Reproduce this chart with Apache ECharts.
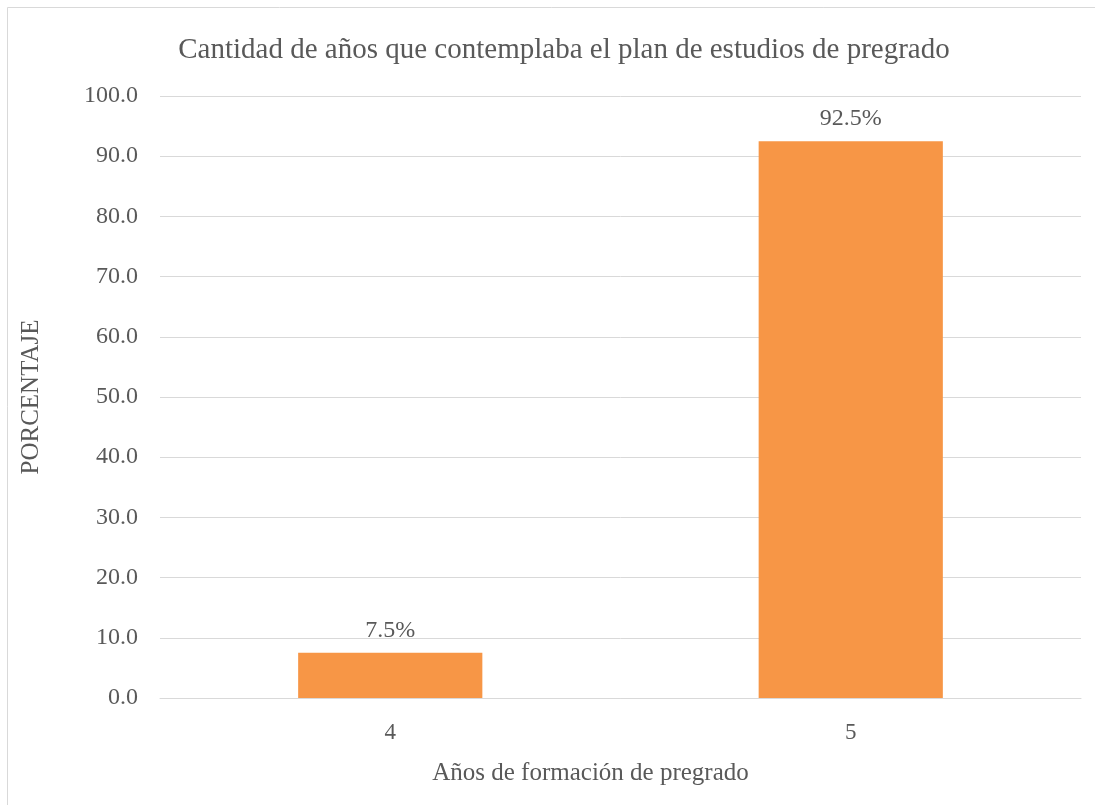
<!DOCTYPE html>
<html>
<head>
<meta charset="utf-8">
<script src="https://cdn.jsdelivr.net/npm/echarts@6/dist/echarts.min.js"></script>
<style>
html, body { margin: 0; padding: 0; background: #fff; }
#main { width: 1095px; height: 805px; }
</style>
</head>
<body>
<div id="main"></div>
<script>
var categories = ['4', '5'];
var values = [7.5, 92.5];
var yTicks = [0, 10, 20, 30, 40, 50, 60, 70, 80, 90, 100];

var textColor = '#595959';
var serif = '"Liberation Serif", "Times New Roman", serif';

var myChart = echarts.init(document.getElementById('main'));

var option = {
    backgroundColor: '#fff',
    animation: false,
    title: {
        text: 'Cantidad de años que contemplaba el plan de estudios de pregrado',
        left: 559,
        top: 31,
        textAlign: 'center',
        textStyle: {
            color: textColor,
            fontFamily: serif,
            fontWeight: 'normal',
            fontSize: 29
        }
    },
    graphic: [{
        type: 'rect',
        shape: { x: 7.5, y: 7.5, width: 1100, height: 810 },
        style: { fill: 'none', stroke: '#d9d9d9', lineWidth: 1 },
        silent: true
    }],
    grid: {
        left: 160,
        right: 14,
        top: 96,
        bottom: 107
    },
    xAxis: {
        type: 'category',
        data: categories,
        name: 'Años de formación de pregrado',
        nameLocation: 'middle',
        nameGap: 63,
        nameTextStyle: {
            color: textColor,
            fontFamily: serif,
            fontSize: 25,
            padding: [0, 60, 0, 0]
        },
        axisLine: { lineStyle: { color: '#d9d9d9', width: 1 } },
        axisTick: { show: false },
        axisLabel: {
            color: textColor,
            fontFamily: serif,
            fontSize: 23,
            margin: 23
        }
    },
    yAxis: {
        type: 'value',
        min: yTicks[0],
        max: yTicks[yTicks.length - 1],
        interval: 10,
        name: 'PORCENTAJE',
        nameLocation: 'middle',
        nameGap: 116,
        nameTextStyle: {
            color: textColor,
            fontFamily: serif,
            fontSize: 25
        },
        axisLine: { show: false },
        axisTick: { show: false },
        splitLine: { lineStyle: { color: '#d9d9d9', width: 1 } },
        axisLabel: {
            color: textColor,
            fontFamily: serif,
            fontSize: 24,
            margin: 22,
            formatter: function (v) { return v.toFixed(1); }
        }
    },
    series: [{
        type: 'bar',
        data: values,
        barWidth: '40%',
        itemStyle: { color: '#f79646' },
        label: {
            show: true,
            position: 'top',
            distance: 10,
            color: textColor,
            fontFamily: serif,
            fontSize: 24,
            formatter: function (p) { return p.value.toFixed(1) + '%'; }
        }
    }]
};

myChart.setOption(option);
</script>
</body>
</html>
